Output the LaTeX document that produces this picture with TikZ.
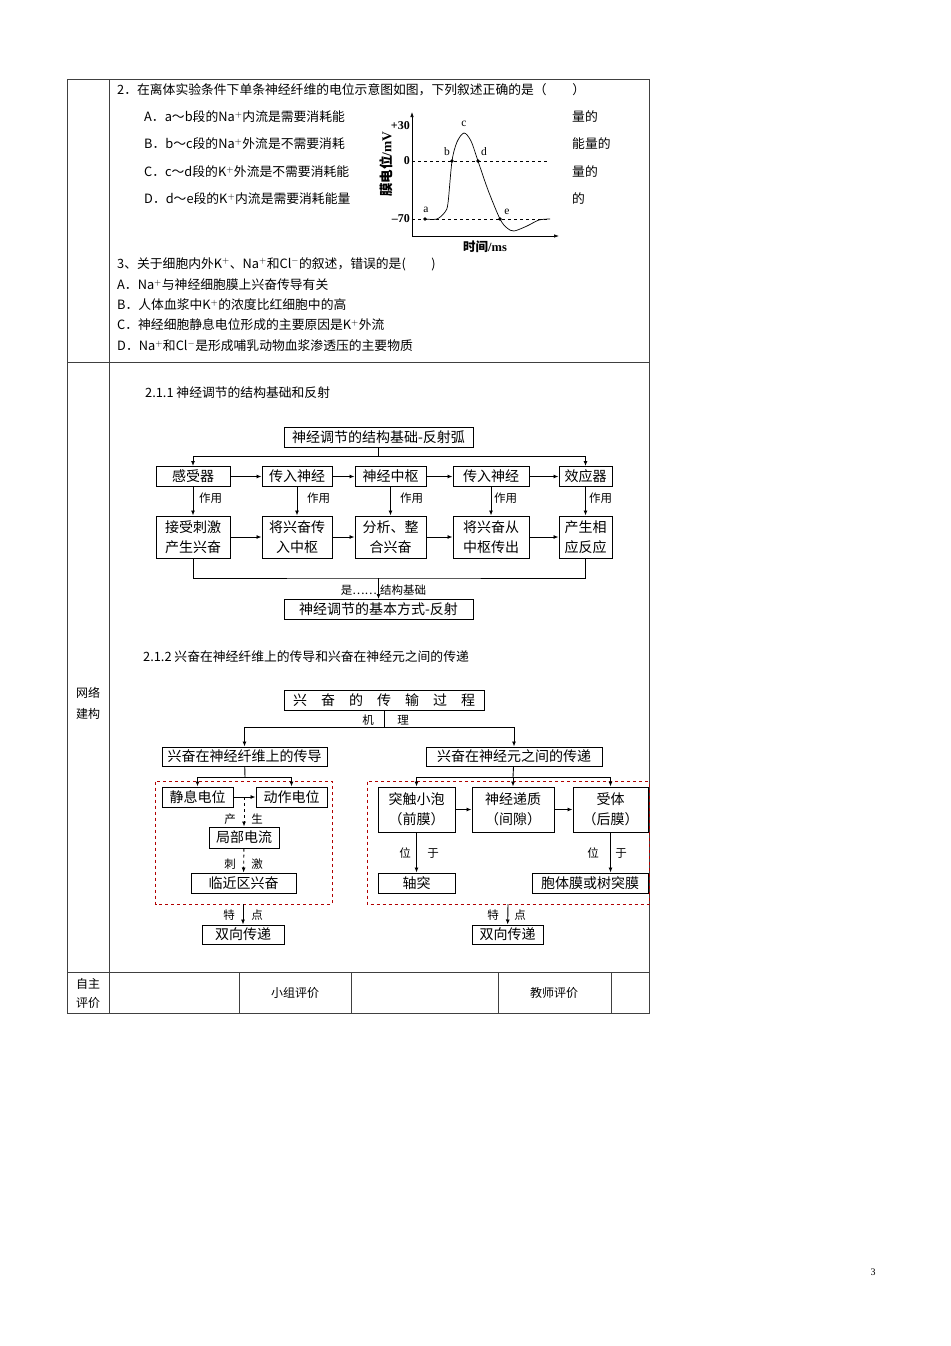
\documentclass[tikz,border=0pt]{standalone}
\usepackage{fontspec}
\setmainfont{Liberation Serif}
\newfontfamily\cjk{Noto Sans CJK SC}
\usetikzlibrary{arrows.meta}

\begin{document}
\begin{tikzpicture}[x=1pt,y=-1pt,
  box/.style={draw,line width=1pt,inner sep=0pt,minimum height=20pt,align=center,font=\cjk\fontsize{14}{20}\selectfont},
  lab/.style={inner sep=0pt,font=\cjk\fontsize{11.5}{13}\selectfont},
  txt/.style={anchor=west,inner sep=0pt,font=\cjk\fontsize{12.8}{15}\selectfont},
  arr/.style={-{Latex[length=5pt,width=4pt]},line width=0.9pt},
  grid/.style={draw=black!75,line width=0.8pt},
  zone/.style={draw=red!70!black,dashed,line width=0.8pt},
  dot/.style={circle,fill,inner sep=0pt,minimum size=3.6pt}]

\fill[white] (0,0) rectangle (950,1346);
\useasboundingbox (0,0) rectangle (950,1346);

% table
\draw[grid] (67,79) rectangle (649,1013);
\draw[grid] (109,79) -- (109,1013);
\draw[grid] (67,362) -- (649,362);
\draw[grid] (67,972) -- (649,972);
\foreach \x in {239,351,498,611} \draw[grid] (\x,972) -- (\x,1013);

\node[lab,font=\cjk\fontsize{12}{14}\selectfont] (wl) at (88,693) {网络};
\node[lab,font=\cjk\fontsize{12}{14}\selectfont] (jg) at (88,714) {建构};
\node[lab,font=\cjk\fontsize{12}{14}\selectfont] (zz) at (88,984) {自主};
\node[lab,font=\cjk\fontsize{12}{14}\selectfont] (pj) at (88,1003) {评价};
\node[lab,font=\cjk\fontsize{12}{14}\selectfont] (xz) at (295,993) {小组评价};
\node[lab,font=\cjk\fontsize{12}{14}\selectfont] (js) at (554,993) {教师评价};
\node[inner sep=0pt,font=\fontsize{10}{12}\selectfont] (page) at (873,1272) {3};

% question 2
\node[txt] (q2) at (117,90) {2．在离体实验条件下单条神经纤维的电位示意图如图，下列叙述正确的是（　　）};
\node[txt] (qa) at (144,117) {A．a～b段的Na$^+$内流是需要消耗能};
\node[txt] (qb) at (144,144) {B．b～c段的Na$^+$外流是不需要消耗};
\node[txt] (qc) at (144,172) {C．c～d段的K$^+$外流是不需要消耗能};
\node[txt] (qd) at (144,199) {D．d～e段的K$^+$内流是需要消耗能量};
\node[txt] (ra) at (572,117) {量的};
\node[txt] (rb) at (572,144) {能量的};
\node[txt] (rc) at (572,172) {量的};
\node[txt] (rd) at (572,199) {的};

% graph
\coordinate (o) at (412,236);
\coordinate (ytop) at (412,112);
\coordinate (xend) at (559,236);
\draw[-{Latex[length=5pt,width=3.5pt]},line width=0.7pt] (o) -- (ytop);
\draw[-{Latex[length=5pt,width=3.5pt]},line width=0.7pt] (o) -- (xend);
\draw[dashed,line width=0.7pt] (412,161) -- (549,161);
\draw[dashed,line width=0.7pt] (412,219) -- (549,219);
\draw[line width=0.7pt] plot[smooth] coordinates {(425,219) (437,219) (445,212) (448,203) (452,161) (457,142) (464,133) (471,141) (478,161) (488,190) (500,219) (507,228) (514,231) (527,226) (539,220) (550,219)};
\node[dot] (pa) at (425,219) {};
\node[dot] (pb) at (452,161) {};
\node[dot] (pd) at (478,161) {};
\node[dot] (pe) at (500,219) {};
\node[inner sep=0pt,font=\fontsize{11.5}{13}\selectfont] (la) at (426,210) {a};
\node[inner sep=0pt,font=\fontsize{11.5}{13}\selectfont] (lb) at (447,152) {b};
\node[inner sep=0pt,font=\fontsize{11.5}{13}\selectfont] (lc) at (464,124) {c};
\node[inner sep=0pt,font=\fontsize{11.5}{13}\selectfont] (ld) at (484,152) {d};
\node[inner sep=0pt,font=\fontsize{11.5}{13}\selectfont] (le) at (507,212) {e};
\node[anchor=east,inner sep=0pt,font=\bfseries\fontsize{12}{13}\selectfont] (t30) at (410,126) {+30};
\node[anchor=east,inner sep=0pt,font=\bfseries\fontsize{12}{13}\selectfont] (t0) at (410,161) {0};
\node[anchor=east,inner sep=0pt,font=\bfseries\fontsize{12}{13}\selectfont] (t70) at (410,219) {–70};
\node[rotate=90,inner sep=0pt,font=\bfseries\fontsize{13.5}{15}\selectfont] (ylab) at (386,164) {{\cjk 膜电位}/mV};
\node[inner sep=0pt,font=\bfseries\fontsize{12.5}{14}\selectfont] (xlab) at (485,247) {{\cjk 时间}/ms};

% question 3
\node[txt] (q3) at (117,264) {3、关于细胞内外K$^+$、Na$^+$和Cl$^-$的叙述，错误的是(　　)};
\node[txt] (q3a) at (117,285) {A．Na$^+$与神经细胞膜上兴奋传导有关};
\node[txt] (q3b) at (117,305) {B．人体血浆中K$^+$的浓度比红细胞中的高};
\node[txt] (q3c) at (117,325) {C．神经细胞静息电位形成的主要原因是K$^+$外流};
\node[txt] (q3d) at (117,346) {D．Na$^+$和Cl$^-$是形成哺乳动物血浆渗透压的主要物质};

% 2.1.1
\node[txt] (h1) at (145,393) {2.1.1 神经调节的结构基础和反射};
\node[box,minimum width=189] (arc) at (378.5,437) {神经调节的结构基础-反射弧};
\node[box,minimum width=74] (gan) at (193,476.5) {感受器};
\node[box,minimum width=70] (in1) at (297,476.5) {传入神经};
\node[box,minimum width=71] (cen) at (390.5,476.5) {神经中枢};
\node[box,minimum width=76] (in2) at (491,476.5) {传入神经};
\node[box,minimum width=53] (eff) at (585.5,476.5) {效应器};
\node[box,minimum width=74,minimum height=42] (gan2) at (193,537) {接受刺激\\产生兴奋};
\node[box,minimum width=70,minimum height=42] (in12) at (297,537) {将兴奋传\\入中枢};
\node[box,minimum width=71,minimum height=42] (cen2) at (390.5,537) {分析、整\\合兴奋};
\node[box,minimum width=76,minimum height=42] (in22) at (491,537) {将兴奋从\\中枢传出};
\node[box,minimum width=53,minimum height=42] (eff2) at (585.5,537) {产生相\\应反应};
\node[box,minimum width=189] (way) at (378.5,609.5) {神经调节的基本方式-反射};

\coordinate (j1) at (378.5,456);
\coordinate (j2) at (378.5,578);
\draw[line width=0.9pt] (arc) -- (j1);
\draw[arr] (j1) -| (gan);
\draw[arr] (j1) -| (eff);
\draw[arr] (gan) -- (in1);
\draw[arr] (in1) -- (cen);
\draw[arr] (cen) -- (in2);
\draw[arr] (in2) -- (eff);
\draw[arr] (gan) -- (gan2);
\draw[arr] (in1) -- (in12);
\draw[arr] (cen) -- (cen2);
\draw[arr] (in2) -- (in22);
\draw[arr] (eff) -- (eff2);
\draw[arr] (gan2) -- (in12);
\draw[arr] (in12) -- (cen2);
\draw[arr] (cen2) -- (in22);
\draw[arr] (in22) -- (eff2);
\draw[line width=0.9pt] (gan2.south) |- (j2) -| (eff2.south);
\draw[arr] (j2) -- (way);

\node[lab,anchor=west] (u1) at (199,498) {作用};
\node[lab,anchor=west] (u2) at (307,498) {作用};
\node[lab,anchor=west] (u3) at (400,498) {作用};
\node[lab,anchor=west] (u4) at (494,498) {作用};
\node[lab,anchor=west] (u5) at (589,498) {作用};
\node[lab,anchor=east] (shi) at (377,590) {是……};
\node[lab,anchor=west] (jc) at (380,590) {结构基础};

% 2.1.2
\node[txt] (h2) at (143,657) {2.1.2 兴奋在神经纤维上的传导和兴奋在神经元之间的传递};
\node[box,minimum width=200] (proc) at (384,700) {兴　奋　的　传　输　过　程};
\node[box,minimum width=165,minimum height=19] (fib) at (244.5,756.5) {兴奋在神经纤维上的传导};
\node[box,minimum width=176,minimum height=19] (syn) at (514,756.5) {兴奋在神经元之间的传递};
\coordinate (jm) at (384,727);
\draw[line width=0.9pt] (proc) -- (jm);
\draw[arr] (jm) -| (fib);
\draw[arr] (jm) -| (syn);
\node[lab] (ji) at (368,720) {机};
\node[lab] (li) at (403,720) {理};

% left part
\draw[zone] (155.5,781.5) rectangle (332,904);
\node[box,minimum width=71] (rest) at (197.5,797) {静息电位};
\node[box,minimum width=71] (act) at (291.5,797) {动作电位};
\node[box,minimum width=70,minimum height=21] (loc) at (244,837.5) {局部电流};
\node[box,minimum width=105] (near) at (243.5,883) {临近区兴奋};
\node[box,minimum width=82,minimum height=19] (two1) at (243,934.5) {双向传递};
\coordinate (jl) at (245,777);
\coordinate (jp) at (244,797);
\coordinate (zl) at (243,904);
\draw[line width=0.9pt] (fib) -- (jl);
\draw[arr] (jl) -| (rest);
\draw[arr] (jl) -| (act);
\draw[arr] (rest) -- (act);
\draw[arr,dashed] (jp) -- (loc);
\draw[arr,dashed] (loc) -- (near);
\draw[arr] (zl) -- (two1);
\node[lab] (chan) at (230,819) {产};
\node[lab] (sheng) at (257,819) {生};
\node[lab] (ci) at (230,864) {刺};
\node[lab] (jiao) at (257,864) {激};
\node[lab] (te1) at (229,915) {特};
\node[lab] (dian1) at (257,915) {点};

% right part
\draw[zone] (367,781.5) rectangle (649,904);
\node[box,minimum width=77,minimum height=45] (ves) at (416.5,809.5) {突触小泡\\（前膜）};
\node[box,minimum width=82,minimum height=45] (trans) at (513,809.5) {神经递质\\（间隙）};
\node[box,minimum width=75,minimum height=45] (rec) at (610.5,809.5) {受体\\（后膜）};
\node[box,minimum width=77] (axon) at (416.5,883) {轴突};
\node[box,minimum width=116] (dend) at (590,883) {胞体膜或树突膜};
\node[box,minimum width=71,minimum height=19] (two2) at (507.5,934.5) {双向传递};
\coordinate (jr) at (513,777);
\coordinate (zr) at (508,904);
\draw[line width=0.9pt] (syn) -- (jr);
\draw[arr] (jr) -| (ves);
\draw[arr] (jr) -- (trans);
\draw[arr] (jr) -| (rec);
\draw[arr] (ves) -- (trans);
\draw[arr] (trans) -- (rec);
\draw[arr] (ves) -- (axon);
\draw[arr] (rec.south) -- (rec.south |- dend.north);
\draw[arr] (zr) -- (two2);
\node[lab] (wei1) at (405,853) {位};
\node[lab] (yu1) at (433,853) {于};
\node[lab] (wei2) at (593,853) {位};
\node[lab] (yu2) at (621,853) {于};
\node[lab] (te2) at (493,915) {特};
\node[lab] (dian2) at (520,915) {点};

\end{tikzpicture}
\end{document}
